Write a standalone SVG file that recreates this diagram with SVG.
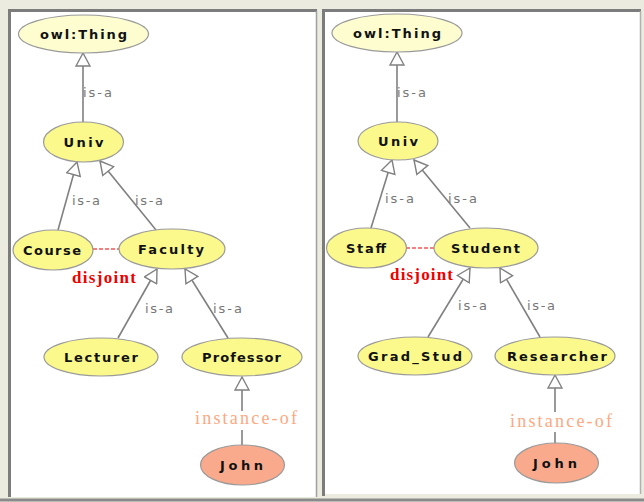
<svg xmlns="http://www.w3.org/2000/svg" width="644" height="502" viewBox="0 0 644 502">
<style>
.cls{stroke:#9a9a9a;stroke-width:1.2}
.pale{fill:#fdfdd0}
.yel{fill:#fbf98c}
.ind{fill:#f9aa8c}
.nt{font-family:"DejaVu Sans",Verdana,sans-serif;font-weight:bold;font-size:13px;fill:#111;text-anchor:middle}
.edge{stroke:#808080;stroke-width:1.6;fill:none}
.isa{font-family:"DejaVu Sans",Verdana,sans-serif;font-size:13px;fill:#777}
.inst{font-family:"Liberation Serif","Times New Roman",serif;font-size:18px;fill:#fca882}
.dis{font-family:"Liberation Serif","Times New Roman",serif;font-size:17px;font-weight:bold;fill:#e00}
.dj{stroke:#e00;stroke-width:1.2;stroke-dasharray:4,2}
</style>
<defs>
<marker id="tri" viewBox="0 0 15 16" refX="14" refY="8" markerUnits="userSpaceOnUse" markerWidth="15" markerHeight="16" orient="auto">
<path d="M14,8 L1,1 L1,15 Z" fill="#fff" stroke="#808080" stroke-width="1.4"/>
</marker>
</defs>
<rect x="0" y="0" width="644" height="502" fill="#ecebdf"/>
<g id="panel-left">
<rect x="10" y="11" width="306" height="486" fill="#fff"/>
<path d="M9.5,497 V10.5 H317" stroke="#7c7c7c" stroke-width="3" fill="none"/>
<path d="M316.5,11 V497" stroke="#a0a0a0" stroke-width="1.5" fill="none"/>
</g>
<g id="panel-right">
<rect x="324" y="11" width="316" height="483" fill="#fff"/>
<path d="M323.5,496 V10.5 H641" stroke="#7c7c7c" stroke-width="3" fill="none"/>
<path d="M640.5,11 V494" stroke="#b0b0b0" stroke-width="1.5" fill="none"/>
</g>
<path d="M0,500 H644" stroke="#8a8a8a" stroke-width="3"/>
<g id="connectors">
<path class="edge" d="M83,123 V53" marker-end="url(#tri)"/>
<path class="edge" d="M58,230 L77,162" marker-end="url(#tri)"/>
<path class="edge" d="M156,230 L100,161" marker-end="url(#tri)"/>
<path class="edge" d="M118,338 L157,269" marker-end="url(#tri)"/>
<path class="edge" d="M228,338 L185,269" marker-end="url(#tri)"/>
<path class="edge" d="M242,411 V377" marker-end="url(#tri)"/>
<path class="edge" d="M242,445 V430"/>
<line class="dj" x1="93" y1="249" x2="119" y2="249"/>
<path class="edge" d="M397,122 V52" marker-end="url(#tri)"/>
<path class="edge" d="M371,228 L392,160" marker-end="url(#tri)"/>
<path class="edge" d="M470,228 L414,160" marker-end="url(#tri)"/>
<path class="edge" d="M428,337 L470,268" marker-end="url(#tri)"/>
<path class="edge" d="M540,337 L500,268" marker-end="url(#tri)"/>
<path class="edge" d="M555,412 V375" marker-end="url(#tri)"/>
<path class="edge" d="M555,444 V432"/>
<line class="dj" x1="406" y1="248" x2="434" y2="248"/>
<text class="isa" x="83" y="97" textLength="29">is-a</text>
<text class="isa" x="72" y="205" textLength="28">is-a</text>
<text class="isa" x="135" y="205" textLength="28">is-a</text>
<text class="isa" x="145" y="313" textLength="28">is-a</text>
<text class="isa" x="213" y="313" textLength="29">is-a</text>
<text class="inst" x="195" y="424" textLength="102">instance-of</text>
<text class="dis" x="72" y="283" textLength="64">disjoint</text>
<text class="isa" x="397" y="97" textLength="29">is-a</text>
<text class="isa" x="385" y="203" textLength="29">is-a</text>
<text class="isa" x="448" y="203" textLength="29">is-a</text>
<text class="isa" x="458" y="310" textLength="29">is-a</text>
<text class="isa" x="527" y="310" textLength="28">is-a</text>
<text class="inst" x="510" y="427" textLength="102">instance-of</text>
<text class="dis" x="390" y="280" textLength="63">disjoint</text>
</g>
<g id="L-owlThing"><ellipse class="cls pale" cx="83.5" cy="34" rx="65" ry="19"/><text class="nt" x="83.5" y="39" textLength="87">owl:Thing</text></g>
<g id="L-Univ"><ellipse class="cls yel" cx="83.5" cy="142" rx="40" ry="20"/><text class="nt" x="83.5" y="147" textLength="40">Univ</text></g>
<g id="L-Course"><ellipse class="cls yel" cx="53" cy="250" rx="40" ry="20"/><text class="nt" x="52" y="255" textLength="58">Course</text></g>
<g id="L-Faculty"><ellipse class="cls yel" cx="172" cy="249" rx="53" ry="20"/><text class="nt" x="171" y="254" textLength="66">Faculty</text></g>
<g id="L-Lecturer"><ellipse class="cls yel" cx="101" cy="357" rx="57" ry="19"/><text class="nt" x="101" y="362" textLength="74">Lecturer</text></g>
<g id="L-Professor"><ellipse class="cls yel" cx="242" cy="357" rx="60" ry="19"/><text class="nt" x="241.5" y="362" textLength="79">Professor</text></g>
<g id="L-John"><ellipse class="cls ind" cx="242.5" cy="465" rx="42" ry="20"/><text class="nt" x="241.5" y="470" textLength="43">John</text></g>
<g id="R-owlThing"><ellipse class="cls pale" cx="397" cy="33" rx="65" ry="19"/><text class="nt" x="397" y="38" textLength="88">owl:Thing</text></g>
<g id="R-Univ"><ellipse class="cls yel" cx="398" cy="141" rx="40" ry="19"/><text class="nt" x="398" y="146" textLength="40">Univ</text></g>
<g id="R-Staff"><ellipse class="cls yel" cx="366.5" cy="248" rx="40" ry="20"/><text class="nt" x="366" y="253" textLength="40">Staff</text></g>
<g id="R-Student"><ellipse class="cls yel" cx="486" cy="248" rx="52" ry="20"/><text class="nt" x="485.5" y="253" textLength="69">Student</text></g>
<g id="R-GradStud"><ellipse class="cls yel" cx="415" cy="356" rx="57" ry="19"/><text class="nt" x="415" y="361" textLength="94">Grad_Stud</text></g>
<g id="R-Researcher"><ellipse class="cls yel" cx="555" cy="356" rx="60" ry="19"/><text class="nt" x="557" y="361" textLength="100">Researcher</text></g>
<g id="R-John"><ellipse class="cls ind" cx="556.5" cy="463" rx="42" ry="20"/><text class="nt" x="555" y="468" textLength="44">John</text></g>
</svg>
